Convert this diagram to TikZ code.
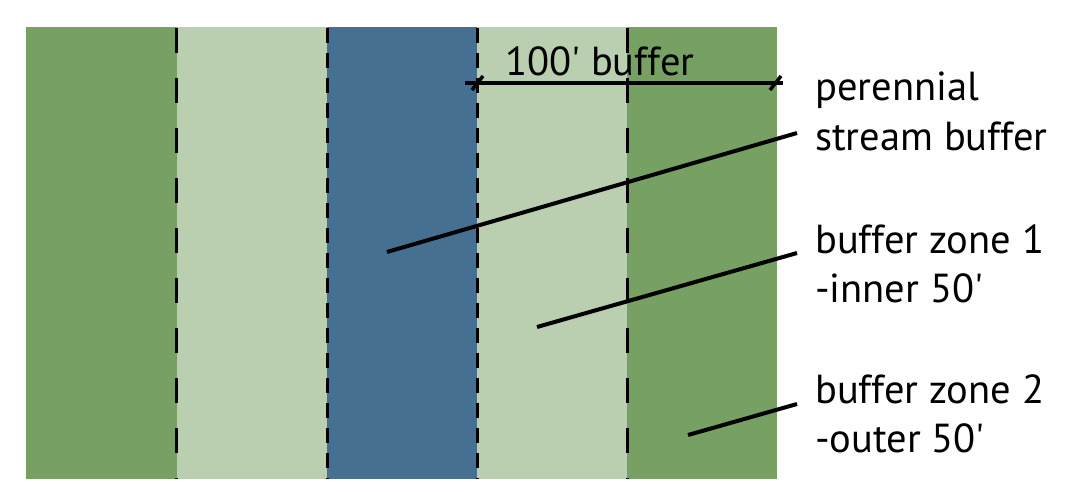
\documentclass[tikz,border=0pt]{standalone}
\usepackage{fontspec}
\setmainfont{PT Sans}
\definecolor{dkgreen}{RGB}{118,161,98}
\definecolor{ltgreen}{RGB}{186,207,175}
\definecolor{streamblue}{RGB}{70,112,145}
\newcommand{\ft}{\textquotesingle}
\tikzset{
  zoneedge/.style={line width=3pt, dash pattern=on 25pt off 25pt},
  streamedge/.style={line width=3pt, dash pattern=on 15pt off 10pt},
  leader/.style={line width=4pt},
  tick/.style={line width=3.5pt},
  lbl/.style={anchor=base west, inner sep=0pt, font=\fontsize{40.5}{48}\selectfont},
}
\begin{document}
\begin{tikzpicture}[x=1pt,y=-1pt]
\useasboundingbox (0,0) rectangle (1074,491);
% zones
\fill[dkgreen] (26,27) rectangle (177,479);
\fill[ltgreen] (177,27) rectangle (327,479);
\fill[streamblue] (327,27) rectangle (477,479);
\fill[ltgreen] (477,27) rectangle (627,479);
\fill[dkgreen] (627,27) rectangle (777,479);
% edges
\draw[zoneedge] (176,28) -- (176,479);
\draw[streamedge] (327,28) -- (327,479);
\draw[streamedge] (477,28) -- (477,479);
\draw[zoneedge] (627,28) -- (627,479);
% dimension
\coordinate (d1) at (465,83);
\coordinate (d2) at (783,83);
\draw[leader] (d1) -- (d2);
\draw[tick] (472,90) -- (483,76);
\draw[tick] (770,90) -- (781,76);
\node[lbl] (dim) at (505,75) {100\ft{} buffer};
% labels
\node[lbl] (a1) at (815,100) {perennial};
\node[lbl] (a2) at (815,150) {stream buffer};
\node[lbl] (b1) at (815,253) {buffer zone 1};
\node[lbl] (b2) at (815,302) {-inner 50\ft};
\node[lbl] (c1) at (815,403) {buffer zone 2};
\node[lbl] (c2) at (815,452) {-outer 50\ft};
% leaders
\coordinate (p1s) at (387,252);
\coordinate (p1e) at (797,133);
\coordinate (p2s) at (537,327);
\coordinate (p2e) at (797,253);
\coordinate (p3s) at (688,435);
\coordinate (p3e) at (797,404);
\draw[leader] (p1s) -- (p1e);
\draw[leader] (p2s) -- (p2e);
\draw[leader] (p3s) -- (p3e);
\end{tikzpicture}
\end{document}
